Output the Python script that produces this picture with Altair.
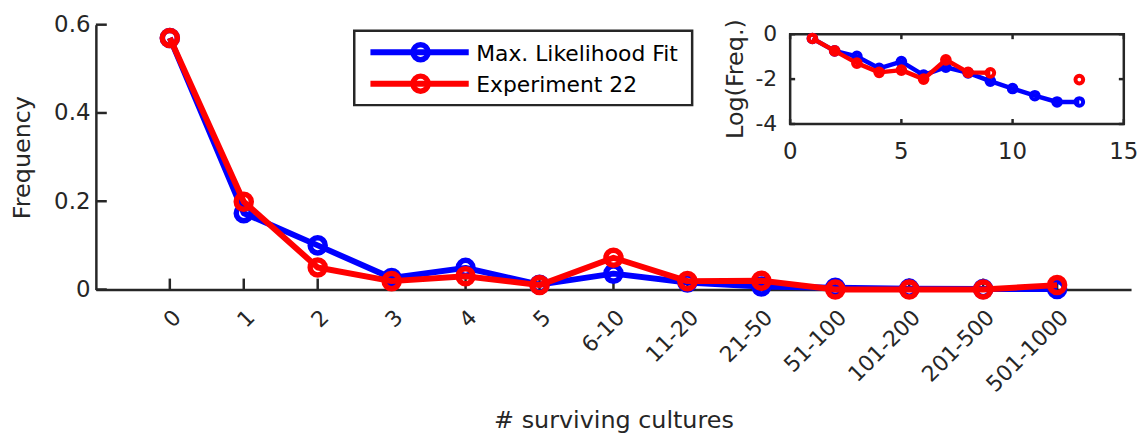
import json
import altair as alt
import pandas as pd

# ---------------- data ----------------
categories = ["0", "1", "2", "3", "4", "5", "6-10", "11-20", "21-50",
              "51-100", "101-200", "201-500", "501-1000"]
fit_freq = [0.570, 0.173, 0.100, 0.026, 0.049, 0.011, 0.036, 0.016, 0.007,
            0.004, 0.002, 0.001, 0.001]
exp_freq = [0.570, 0.199, 0.050, 0.019, 0.030, 0.010, 0.072, 0.019, 0.020,
            0.000, 0.000, 0.000, 0.010]
fit_log = [-0.19, -0.74, -0.99, -1.52, -1.22, -1.82, -1.47, -1.72, -2.09,
           -2.42, -2.74, -3.02, -3.02]
exp_log = [-0.19, -0.74, -1.29, -1.70, -1.60, -2.00, -1.14, -1.70, -1.72,
           None, None, None, -2.02]
main_yticks = [0, 0.2, 0.4, 0.6]
inset_xticks = [0, 5, 10, 15]
inset_yticks = [-4, -2, 0]
series_names = ["Max. Likelihood Fit", "Experiment 22"]
series_colors = ["#0000FF", "#FF0000"]

# ---------------- layout / style ----------------
W, H = 1042.5, 266.7
INK = "#262626"
FONT = "DejaVu Sans"
IN_X = [699.2, 1035.2]
IN_Y = [100.0, 9.6]

idx = list(range(1, len(categories) + 1))
main_x_dom = [0, len(categories) + 1]
label_expr = json.dumps(categories) + "[datum.value - 1]"

x_axis = alt.Axis(values=idx, labelExpr=label_expr, labelAngle=315,
                  labelAlign="right", labelBaseline="top", labelPadding=17,
                  labelFontSize=22, labelFont=FONT, labelColor=INK,
                  labelOverlap=False, labelBound=False, labelFlush=False,
                  ticks=False, tickSize=0, grid=False,
                  domainColor=INK, domainWidth=2.5,
                  title="# surviving cultures", titleFont=FONT,
                  titleFontSize=24, titleFontWeight="normal", titleColor=INK,
                  titleX=W / 2, titleY=139, titleBaseline="alphabetic",
                  titleAlign="center")
y_axis = alt.Axis(values=main_yticks, format=".1~f", labelFontSize=23,
                  labelFont=FONT, labelColor=INK, labelPadding=6,
                  labelOverlap=False,
                  ticks=False, tickSize=0, grid=False,
                  domainColor=INK, domainWidth=2.5,
                  title="Frequency", titleFont=FONT, titleFontSize=24,
                  titleFontWeight="normal", titleColor=INK, titleAngle=270,
                  titleX=-67, titleY=H / 2, titleBaseline="alphabetic",
                  titleAlign="center")

xs_main = alt.Scale(domain=main_x_dom, nice=False, zero=False)
ys_main = alt.Scale(domain=[main_yticks[0], main_yticks[-1]], nice=False, zero=False)


def mx(f):
    return alt.X(f, type="quantitative", scale=xs_main, axis=x_axis)


def my(f):
    return alt.Y(f, type="quantitative", scale=ys_main, axis=y_axis)


main_layers = []
# inward ticks
xt_df = pd.DataFrame({"idx": idx, "zero": [0] * len(idx)})
main_layers.append(
    alt.Chart(xt_df).mark_rule(color=INK, strokeWidth=2.5, y2Offset=-11)
    .encode(x=mx("idx"), y=my("zero"), y2="zero")
)
yt_df = pd.DataFrame({"idx": [0] * len(main_yticks), "freq": main_yticks})
main_layers.append(
    alt.Chart(yt_df).mark_rule(color=INK, strokeWidth=2.5, x2Offset=11)
    .encode(x=mx("idx"), x2="idx", y=my("freq"))
)
for name, col, vals in zip(series_names, series_colors, [fit_freq, exp_freq]):
    df = pd.DataFrame({"idx": idx, "freq": vals, "series": name})
    main_layers.append(
        alt.Chart(df).mark_line(color=col, strokeWidth=6, strokeJoin="round")
        .encode(x=mx("idx"), y=my("freq"))
    )
    main_layers.append(
        alt.Chart(df).mark_point(shape="circle", filled=False, color=col,
                                 size=230, strokeWidth=5.5, opacity=1)
        .encode(x=mx("idx"), y=my("freq"))
    )
main = alt.layer(*main_layers)

# ---------------- inset ----------------
xs_in = alt.Scale(domain=[inset_xticks[0], inset_xticks[-1]], range=IN_X,
                  nice=False, zero=False)
ys_in = alt.Scale(domain=[inset_yticks[0], inset_yticks[-1]], range=IN_Y,
                  nice=False, zero=False)


def ix(f):
    return alt.X(f, type="quantitative", scale=xs_in, axis=None)


def iy(f):
    return alt.Y(f, type="quantitative", scale=ys_in, axis=None)


inset_layers = []
box_df = pd.DataFrame({"x0": [inset_xticks[0]], "x1": [inset_xticks[-1]],
                       "y0": [inset_yticks[0]], "y1": [inset_yticks[-1]]})
inset_layers.append(
    alt.Chart(box_df).mark_rect(fill="white", stroke=INK, strokeWidth=2.5)
    .encode(x=ix("x0"), x2="x1", y=iy("y0"), y2="y1")
)
ixt = pd.DataFrame({"v": inset_xticks, "b": inset_yticks[0], "t": inset_yticks[-1],
                    "lab": [str(v) for v in inset_xticks]})
iyt = pd.DataFrame({"v": inset_yticks, "l": inset_xticks[0], "r": inset_xticks[-1],
                    "lab": [str(v) for v in inset_yticks]})
inset_layers += [
    alt.Chart(ixt).mark_rule(color=INK, strokeWidth=2.5, y2Offset=-5)
    .encode(x=ix("v"), y=iy("b"), y2="b"),
    alt.Chart(ixt).mark_rule(color=INK, strokeWidth=2.5, y2Offset=5)
    .encode(x=ix("v"), y=iy("t"), y2="t"),
    alt.Chart(iyt).mark_rule(color=INK, strokeWidth=2.5, x2Offset=5)
    .encode(y=iy("v"), x=ix("l"), x2="l"),
    alt.Chart(iyt).mark_rule(color=INK, strokeWidth=2.5, x2Offset=-5)
    .encode(y=iy("v"), x=ix("r"), x2="r"),
    alt.Chart(ixt).mark_text(font=FONT, fontSize=23, color=INK, baseline="top",
                             align="center", dy=17)
    .encode(x=ix("v"), y=iy("b"), text="lab"),
    alt.Chart(iyt).mark_text(font=FONT, fontSize=22, color=INK, baseline="middle",
                             align="right", dx=-13)
    .encode(x=ix("l"), y=iy("v"), text="lab"),
]
title_df = pd.DataFrame({"l": [inset_xticks[0]],
                         "m": [(inset_yticks[0] + inset_yticks[-1]) / 2],
                         "t": ["Log(Freq.)"]})
inset_layers.append(
    alt.Chart(title_df).mark_text(font=FONT, fontSize=24, color=INK, angle=270,
                                  baseline="middle", align="center", xOffset=-54)
    .encode(x=ix("l"), y=iy("m"), text="t")
)
for name, col, vals in zip(series_names, series_colors, [fit_log, exp_log]):
    df = pd.DataFrame({"n": idx, "lg": vals, "series": name})
    df["seg"] = df["lg"].isna().cumsum()
    df = df.dropna(subset=["lg"])
    inset_layers.append(
        alt.Chart(df).mark_line(color=col, strokeWidth=4.5, strokeJoin="round")
        .encode(x=ix("n"), y=iy("lg"), detail="seg:N")
    )
    inset_layers.append(
        alt.Chart(df).mark_point(shape="circle", filled=False, color=col,
                                 size=60, strokeWidth=4, opacity=1)
        .encode(x=ix("n"), y=iy("lg"))
    )
inset = alt.layer(*inset_layers)

# ---------------- legend (decoration) ----------------
one = pd.DataFrame({"k": [0]})
leg_layers = [
    alt.Chart(one).mark_rect(fill="white", stroke=INK, strokeWidth=2.5)
    .encode(x=alt.value(260.2), x2=alt.value(600.5), y=alt.value(6), y2=alt.value(81))
]
for i, (name, col) in enumerate(zip(series_names, series_colors)):
    yy = 27.7 + i * 31.7
    leg_layers += [
        alt.Chart(one).mark_rule(color=col, strokeWidth=6)
        .encode(x=alt.value(276.5), x2=alt.value(375.5), y=alt.value(yy)),
        alt.Chart(one).mark_point(shape="circle", filled=False, color=col,
                                  size=230, strokeWidth=5.5, opacity=1)
        .encode(x=alt.value(327), y=alt.value(yy)),
        alt.Chart(one).mark_text(font=FONT, fontSize=22, color="black",
                                 align="left", baseline="alphabetic")
        .encode(x=alt.value(383), y=alt.value(yy + 8.5), text=alt.value(name)),
    ]
legend = alt.layer(*leg_layers)

chart = (
    alt.layer(main, inset, legend)
    .resolve_scale(x="independent", y="independent")
    .properties(width=W, height=H,
                padding={"left": 88.5, "top": 15.3, "right": 7, "bottom": 144},
                autosize=alt.AutoSizeParams(type="none"))
    .configure(font=FONT)
    .configure_view(strokeWidth=0)
)

chart.save("out.html", embed_options={"renderer": "svg", "actions": False})
